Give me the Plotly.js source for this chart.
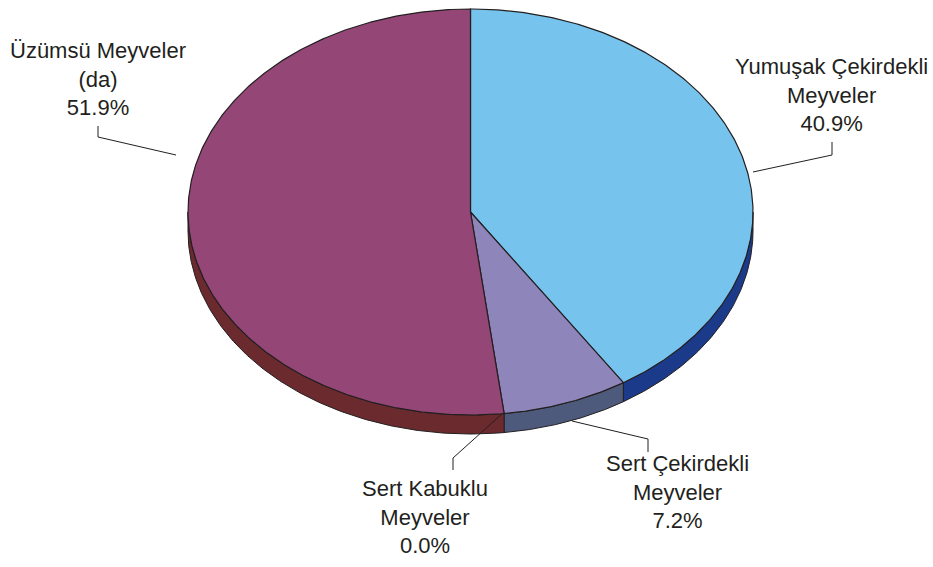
<!DOCTYPE html>
<html>
<head>
<meta charset="utf-8">
<script src="https://cdn.plot.ly/plotly-3.0.1.min.js"></script>
<style>html,body{margin:0;padding:0;background:#fff;}#chart{width:933px;height:567px;}</style>
</head>
<body>
<div id="chart"></div>
<script>
// ---- data (clockwise from 12 o'clock) ----
const categories = ['Yumuşak Çekirdekli<br>Meyveler', 'Sert Çekirdekli<br>Meyveler', 'Sert Kabuklu<br>Meyveler', 'Üzümsü Meyveler<br>(da)'];
const values = [40.9, 7.2, 0.0, 51.9];
const topColors = ['#76c4ee', '#8e86bb', '#6a6a9a', '#944677'];
const sideColors = ['#1c3a8a', '#4d5a7c', '#4d5a7c', '#6b2a2d'];

// ---- layout geometry (pixel units of the plot) ----
const W = 933, H = 567;
const CX = 470.5, CY = 212, RA = 282.5, RB = 203, DEPTH = 19;
const labelPos = [[831, 95], [677, 492], [425, 517], [98, 79]];
const leaderPaths = [
  [[753, 172], [832, 155], [832, 142]],
  [[572, 421], [648, 439], [648, 452]],
  [[503, 413], [453, 458], [453, 470]],
  [[176, 155], [98, 137], [98, 126]]
];
const outline = '#231f20';

function pt(deg, dy) {
  const r = deg * Math.PI / 180;
  return [CX + RA * Math.sin(r), CY - RB * Math.cos(r) + (dy || 0)];
}
function arc(a0, a1, dy) {
  const n = Math.max(2, Math.ceil(Math.abs(a1 - a0) / 0.5));
  const out = [];
  for (let i = 0; i <= n; i++) out.push(pt(a0 + (a1 - a0) * i / n, dy));
  return out;
}

const total = values.reduce((s, v) => s + v, 0);
const angles = [];
let acc = 0;
values.forEach(v => { const a0 = acc / total * 360; acc += v; angles.push([a0, acc / total * 360]); });

const traces = [];
// side walls (front half only)
angles.forEach(([a0, a1], i) => {
  const s = Math.max(a0, 90), e = Math.min(a1, 270);
  if (e <= s) return;
  const top = arc(s, e, 0);
  const bot = arc(e, s, DEPTH);
  const poly = top.concat(bot);
  poly.push(top[0]);
  traces.push({
    type: 'scatter', mode: 'lines', fill: 'toself', fillcolor: sideColors[i],
    x: poly.map(p => p[0]), y: poly.map(p => p[1]),
    line: {color: outline, width: 1}, hoverinfo: 'skip', showlegend: false
  });
});
// top faces
angles.forEach(([a0, a1], i) => {
  if (a1 - a0 <= 0) return;
  const poly = [[CX, CY]].concat(arc(a0, a1, 0));
  poly.push([CX, CY]);
  traces.push({
    type: 'scatter', mode: 'lines', fill: 'toself', fillcolor: topColors[i],
    x: poly.map(p => p[0]), y: poly.map(p => p[1]),
    line: {color: outline, width: 1.2}, hoverinfo: 'skip', showlegend: false
  });
});
// leader lines
leaderPaths.forEach(p => {
  traces.push({
    type: 'scatter', mode: 'lines', x: p.map(q => q[0]), y: p.map(q => q[1]),
    line: {color: outline, width: 1}, hoverinfo: 'skip', showlegend: false
  });
});

const annotations = categories.map((c, i) => ({
  x: labelPos[i][0], y: labelPos[i][1], xref: 'x', yref: 'y',
  text: c + '<br>' + values[i].toFixed(1) + '%',
  showarrow: false, xanchor: 'center', yanchor: 'middle', align: 'center',
  font: {family: 'Liberation Sans, Arial, sans-serif', size: 22, color: outline}
}));

const layout = {
  width: W, height: H,
  margin: {l: 0, r: 0, t: 0, b: 0},
  paper_bgcolor: '#ffffff', plot_bgcolor: '#ffffff',
  xaxis: {range: [0, W], visible: false, fixedrange: true},
  yaxis: {range: [H, 0], visible: false, fixedrange: true},
  annotations: annotations,
  showlegend: false
};
Plotly.newPlot('chart', traces, layout, {displayModeBar: false, staticPlot: true});
</script>
</body>
</html>
